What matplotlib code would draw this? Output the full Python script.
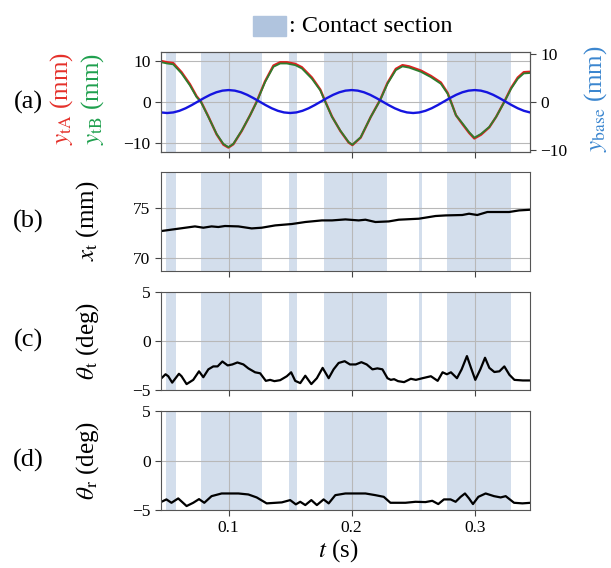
import numpy as np
import matplotlib
matplotlib.use('Agg')
import matplotlib.pyplot as plt
from matplotlib.patches import Rectangle

plt.rcParams['font.family'] = ['Liberation Serif', 'DejaVu Serif']
plt.rcParams['mathtext.fontset'] = 'stix'
plt.rcParams['axes.unicode_minus'] = True

# contact sections (s)
contact_start = [0.049, 0.0778, 0.1488, 0.1777, 0.2544, 0.2772]
contact_end = [0.0575, 0.1273, 0.1555, 0.2287, 0.2572, 0.3295]

# (a) tip displacement
t_a = [0.0452, 0.050, 0.0549, 0.0617, 0.0685, 0.0739, 0.0775, 0.0835, 0.0902, 0.0957,
       0.0998, 0.1038, 0.1106, 0.1174, 0.1228, 0.1296, 0.1364, 0.1419, 0.1473, 0.1541,
       0.1595, 0.1677, 0.1745, 0.1786, 0.184, 0.1908, 0.1976, 0.2006, 0.2073, 0.2155,
       0.2231, 0.2291, 0.2359, 0.2413, 0.2467, 0.2562, 0.2644, 0.2725, 0.278, 0.2807,
       0.2848, 0.2902, 0.2956, 0.2997, 0.3051, 0.3119, 0.3174, 0.3241, 0.3296, 0.335,
       0.3399, 0.345]
y_tA = [9.9, 9.6, 9.4, 7.2, 4.3, 1.4, 0.1, -3.5, -7.8, -10.3,
        -11.0, -10.2, -7.0, -3.2, 0.1, 5.0, 8.8, 9.6, 9.6, 9.2,
        8.4, 5.9, 3.0, 0.1, -3.5, -7.0, -9.8, -10.4, -8.6, -3.6,
        0.5, 4.6, 8.0, 8.9, 8.6, 7.6, 6.3, 4.7, 2.2, 0.1,
        -3.2, -5.4, -7.5, -8.8, -7.9, -6.1, -3.6, 0.1, 3.4, 5.9,
        7.2, 7.3]
y_tB = [9.6, 9.3, 9.1, 6.9, 4.0, 1.2, 0.0, -3.6, -7.7, -10.1,
        -10.9, -10.1, -6.9, -3.2, 0.0, 4.8, 8.5, 9.3, 9.3, 8.9,
        8.1, 5.6, 2.8, 0.0, -3.6, -6.9, -9.7, -10.3, -8.5, -3.6,
        0.4, 4.4, 7.7, 8.6, 8.3, 7.3, 6.0, 4.4, 2.0, 0.0,
        -3.2, -5.2, -7.3, -8.6, -7.7, -6.0, -3.6, 0.0, 3.2, 5.6,
        6.9, 7.0]

# base displacement, every 5 ms from 0.045 s
t_base = np.round(np.arange(0.045, 0.3451, 0.005), 3)
y_base = [-2.18, -2.3, -2.18, -1.84, -1.31, -0.64, 0.1, 0.84, 1.51, 2.04, 2.38,
          2.5, 2.38, 2.04, 1.51, 0.84, 0.1, -0.64, -1.31, -1.84, -2.18,
          -2.3, -2.18, -1.84, -1.31, -0.64, 0.1, 0.84, 1.51, 2.04, 2.38,
          2.5, 2.38, 2.04, 1.51, 0.84, 0.1, -0.64, -1.31, -1.84, -2.18,
          -2.3, -2.18, -1.84, -1.31, -0.64, 0.1, 0.84, 1.51, 2.04, 2.38,
          2.5, 2.38, 2.04, 1.51, 0.84, 0.1, -0.64, -1.31, -1.84, -2.18]

# (b) x_t
t_b = [0.0454, 0.059, 0.0726, 0.0794, 0.0861, 0.0916, 0.097, 0.1079, 0.1187, 0.1269,
       0.1378, 0.1514, 0.1623, 0.1758, 0.184, 0.1949, 0.2057, 0.2112, 0.2193, 0.2302,
       0.2383, 0.2546, 0.2682, 0.2764, 0.2899, 0.2954, 0.3021, 0.3103, 0.328, 0.3361,
       0.3456]
x_t = [72.67, 72.9, 73.13, 73.0, 73.13, 73.07, 73.17, 73.13, 72.93, 73.0,
       73.23, 73.37, 73.57, 73.73, 73.73, 73.83, 73.73, 73.8, 73.57, 73.63,
       73.8, 73.9, 74.17, 74.23, 74.27, 74.4, 74.27, 74.57, 74.57, 74.73,
       74.8]

# (c) theta_t
t_c = [0.0454, 0.0487, 0.0509, 0.0541, 0.0596, 0.0617, 0.0658, 0.0712, 0.0759, 0.0794,
       0.0835, 0.0875, 0.091, 0.0949, 0.0992, 0.103, 0.1071, 0.112, 0.116, 0.1215,
       0.1256, 0.1302, 0.1337, 0.1372, 0.1419, 0.1473, 0.1508, 0.1541, 0.1582, 0.1623,
       0.1672, 0.1717, 0.1764, 0.1813, 0.1853, 0.1894, 0.1943, 0.1986, 0.2033, 0.2079,
       0.2122, 0.2169, 0.2209, 0.225, 0.2291, 0.2318, 0.2345, 0.2377, 0.2426, 0.2481,
       0.2522, 0.2576, 0.2644, 0.2699, 0.2739, 0.2774, 0.2807, 0.2856, 0.2894, 0.2937,
       0.297, 0.3005, 0.3046, 0.3084, 0.3119, 0.316, 0.3201, 0.3241, 0.3282, 0.3323,
       0.3391, 0.345]
theta_t = [-3.8, -3.4, -3.6, -4.25, -3.35, -3.6, -4.4, -3.97, -3.1, -3.7,
           -2.9, -2.6, -2.6, -2.1, -2.5, -2.4, -2.2, -2.4, -2.8, -3.2,
           -3.3, -4.07, -3.97, -4.1, -4.0, -3.6, -3.2, -4.07, -4.3, -3.55,
           -4.4, -3.8, -2.75, -3.8, -2.9, -2.25, -2.07, -2.4, -2.4, -2.17,
           -2.4, -2.9, -2.8, -2.9, -3.8, -3.97, -3.9, -4.1, -4.2, -3.86,
           -3.97, -3.8, -3.6, -4.07, -3.2, -3.4, -3.2, -3.8, -2.9, -1.55,
           -2.75, -3.97, -2.9, -1.72, -2.75, -3.17, -3.1, -2.6, -3.45, -3.97,
           -4.03, -4.03]

# (d) theta_r
t_d = [0.0454, 0.0494, 0.0535, 0.059, 0.0658, 0.0712, 0.0759, 0.0802, 0.0861, 0.0943,
       0.1079, 0.116, 0.1228, 0.1309, 0.1432, 0.15, 0.1546, 0.1582, 0.1623, 0.1672,
       0.1717, 0.1772, 0.1813, 0.1867, 0.1949, 0.2112, 0.2193, 0.2261, 0.2315, 0.2437,
       0.2519, 0.26, 0.2655, 0.2704, 0.275, 0.2804, 0.2845, 0.2886, 0.2921, 0.2954,
       0.2986, 0.303, 0.3089, 0.3157, 0.3211, 0.3252, 0.332, 0.3388, 0.3456]
theta_r = [-4.17, -3.93, -4.27, -3.83, -4.6, -4.27, -3.9, -4.27, -3.6, -3.33,
           -3.33, -3.43, -3.73, -4.33, -4.23, -4.0, -4.43, -4.17, -4.5, -4.0,
           -4.5, -3.93, -4.33, -3.5, -3.33, -3.33, -3.5, -3.67, -4.27, -4.27,
           -4.17, -4.2, -4.07, -4.4, -3.93, -3.93, -4.17, -3.67, -3.33, -3.83,
           -4.4, -3.67, -3.33, -3.6, -3.73, -3.6, -4.27, -4.33, -4.27]

shade = '#b0c4de'
fs_tick = 12.5
fs_lab = 18

fig = plt.figure(figsize=(6.11, 5.68), dpi=100)
left, width = 0.2635, 0.604
bottoms = [0.7329, 0.5234, 0.3134, 0.1021]
heights = [0.175, 0.1743, 0.173, 0.1743]
axes = [fig.add_axes([left, b, width, h]) for b, h in zip(bottoms, heights)]

for ax in axes:
    for s, e in zip(contact_start, contact_end):
        ax.axvspan(s, e, color=shade, alpha=0.55, lw=0, zorder=0)
    ax.set_xlim(0.045, 0.345)
    ax.set_xticks([0.1, 0.2, 0.3])
    ax.grid(True, color='#b8b8b8', lw=0.8)
    ax.tick_params(labelsize=fs_tick, direction='out', length=4, color='#444444')
    for sp in ax.spines.values():
        sp.set_color('#555555')
    if ax is not axes[-1]:
        ax.set_xticklabels([])

# (a)
ax = axes[0]
ax.plot(t_a, y_tA, color='#e02020', lw=1.7)
ax.plot(t_a, y_tB, color='#2e7d2e', lw=1.3)
ax.set_ylim(-12, 12)
ax.set_yticks([-10, 0, 10])
axr = ax.twinx()
axr.plot(t_base, y_base, color='#1515e0', lw=1.7)
axr.set_ylim(-10.4, 10.4)
axr.set_yticks([-10, 0, 10])
axr.tick_params(labelsize=fs_tick, direction='out', length=4, color='#444444')
for sp in axr.spines.values():
    sp.set_color('#555555')
ymid = bottoms[0] + heights[0] / 2 + 0.006
fig.text(0.101, ymid, r'$y_{\mathrm{tA}}$ (mm)', color='#e5302a', fontsize=fs_lab,
         rotation=90, ha='center', va='center')
fig.text(0.151, ymid, r'$y_{\mathrm{tB}}$ (mm)', color='#1fa04e', fontsize=fs_lab,
         rotation=90, ha='center', va='center')
fig.text(0.974, ymid, r'$y_{\mathrm{base}}$ (mm)', color='#3b86cf', fontsize=fs_lab,
         rotation=90, ha='center', va='center')

# (b)
ax = axes[1]
ax.plot(t_b, x_t, color='black', lw=1.6)
ax.set_ylim(68.7, 78.6)
ax.set_yticks([70, 75])
ax.set_ylabel(r'$x_{\mathrm{t}}$ (mm)', fontsize=fs_lab)

# (c)
ax = axes[2]
ax.plot(t_c, theta_t, color='black', lw=1.6)
ax.set_ylim(-5, 5)
ax.set_yticks([-5, 0, 5])
ax.set_ylabel(r'$\theta_{\mathrm{t}}$ (deg)', fontsize=fs_lab)

# (d)
ax = axes[3]
ax.plot(t_d, theta_r, color='black', lw=1.6)
ax.set_ylim(-5, 5)
ax.set_yticks([-5, 0, 5])
ax.set_ylabel(r'$\theta_{\mathrm{r}}$ (deg)', fontsize=fs_lab)
ax.set_xlabel(r'$t$ (s)', fontsize=fs_lab)
ax.xaxis.set_label_coords(0.48, -0.27)

for ax in axes[1:]:
    ax.yaxis.set_label_coords(-0.163, 0.5)

for lab, b, h in zip(['(a)', '(b)', '(c)', '(d)'], bottoms, heights):
    fig.text(0.046, b + h / 2, lab, fontsize=19, ha='center', va='center')

# legend for contact section
fig.patches.append(Rectangle((253 / 611, 1 - 36 / 568), 33 / 611, 20 / 568,
                             transform=fig.transFigure, color=shade, figure=fig))
fig.text(289 / 611, 1 - 26 / 568, ': Contact section', fontsize=17.5,
         ha='left', va='center')

fig.savefig('out.png', dpi=100)
